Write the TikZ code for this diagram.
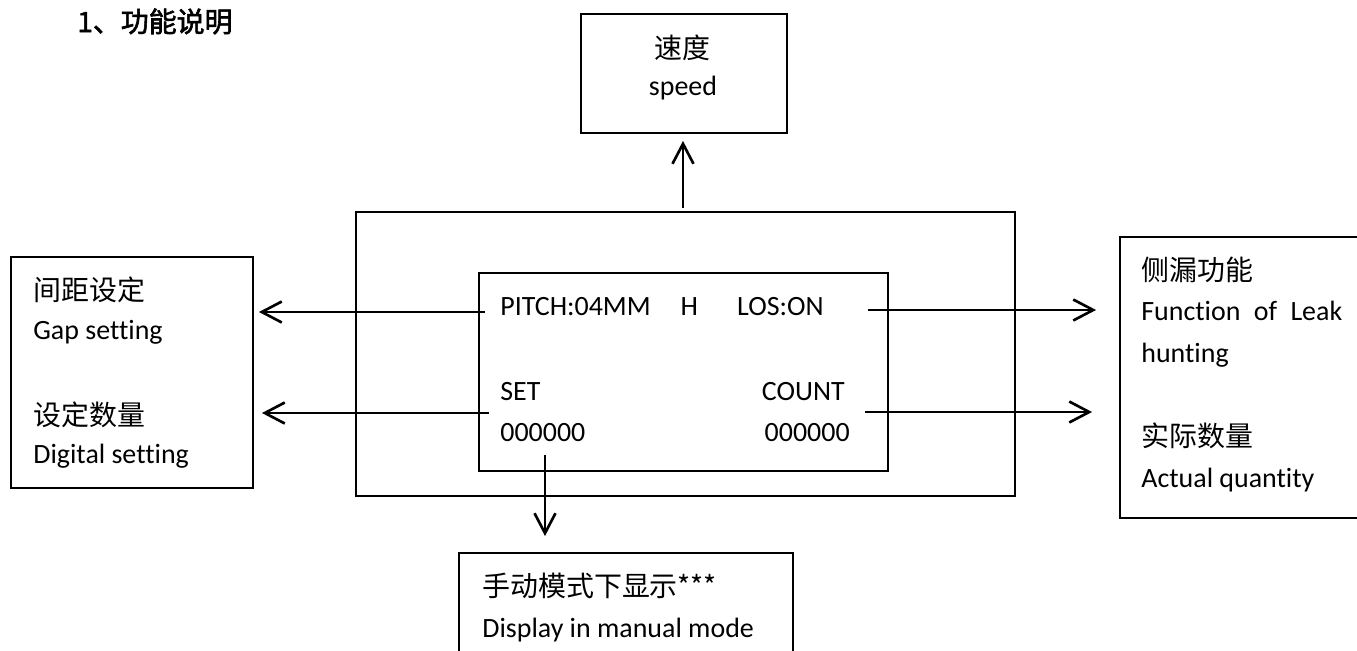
\documentclass[tikz,border=0pt]{standalone}
\usepackage{fontspec}
\setmainfont{Carlito}[Ligatures=NoCommon]
\newfontfamily\cjk{Noto Sans CJK SC}[AutoFakeBold=2]
\usetikzlibrary{arrows.meta}

\begin{document}
\begin{tikzpicture}[x=0.02cm,y=-0.02cm]
    \tikzstyle{cadre}=[draw,line width=1.1pt,rectangle,inner sep=0]
    \tikzstyle{texte}=[anchor=base west,inner sep=0,font=\fontsize{15.9}{19}\selectfont]
    \tikzstyle{texc}=[texte,anchor=base]
    \useasboundingbox (0,0) rectangle (1357,650);
    \clip (0,0) rectangle (1357,650);

    \node[texte,font=\fontsize{15.9}{19}\selectfont\cjk\bfseries] (T00) at (77,32) {1、功能说明};

    \node[cadre,minimum width=4.12cm,minimum height=2.38cm] (N01) at (684,73.5) {};
    \node[texc] (T01) at (682,58) {\cjk 速度};
    \node[texc] (T02) at (683,95) {speed};

    \node[cadre,minimum width=13.18cm,minimum height=5.68cm] (N02) at (685.5,354) {};
    \node[cadre,minimum width=8.18cm,minimum height=3.96cm] (N03) at (683.5,372) {};
    \node[texte] (T03) at (500,315) {PITCH:04MM\hspace{0.6cm}H\hspace{0.78cm}LOS:ON};
    \node[texte] (T04) at (500,400) {SET};
    \node[texte] (T05) at (500,441) {000000};
    \node[texte,anchor=base east] (T06) at (845,400) {COUNT};
    \node[texte,anchor=base east] (T07) at (850,441) {000000};

    \node[cadre,minimum width=4.84cm,minimum height=4.62cm] (N04) at (132,372.5) {};
    \node[texte] (T08) at (33,300) {\cjk 间距设定};
    \node[texte] (T09) at (33,339) {Gap setting};
    \node[texte] (T10) at (33,425) {\cjk 设定数量};
    \node[texte] (T11) at (33,463) {Digital setting};

    \node[cadre,minimum width=6cm,minimum height=5.62cm] (N05) at (1270,377.5) {};
    \node[texte] (T12) at (1141,280) {\cjk 侧漏功能};
    \node[texte] (T13) at (1141,320) {\makebox[4.02cm][s]{Function of Leak}};
    \node[texte] (T14) at (1141,362) {hunting};
    \node[texte] (T15) at (1141,446) {\cjk 实际数量};
    \node[texte] (T16) at (1141,487) {Actual quantity};

    \node[cadre,minimum width=6.68cm,minimum height=2.94cm] (N06) at (626,626.5) {};
    \node[texte] (T17) at (482,596) {\cjk 手动模式下显示***};
    \node[texte] (T18) at (482,637) {Display in manual mode};

    \tikzstyle{link}=[-{Straight Barb[length=0.4cm,width=0.42cm]},line width=1.5pt]
    \coordinate (S1) at (485,312);
    \coordinate (S2) at (489,413);
    \coordinate (S3) at (868,310);
    \coordinate (S4) at (865,412);
    \coordinate (S5) at (545,455);
    \coordinate (S6) at (683,208);
    \draw[link,shorten >=0.1cm] (S1) -- (S1 -| N04.east);
    \draw[link,shorten >=0.16cm] (S2) -- (S2 -| N04.east);
    \draw[link,shorten >=0.46cm] (S3) -- (S3 -| N05.west);
    \draw[link,shorten >=0.54cm] (S4) -- (S4 -| N05.west);
    \draw[link,shorten >=0.32cm] (S5) -- (S5 |- N06.north);
    \draw[link,shorten >=0.14cm] (S6) -- (S6 |- N01.south);
\end{tikzpicture}
\end{document}
